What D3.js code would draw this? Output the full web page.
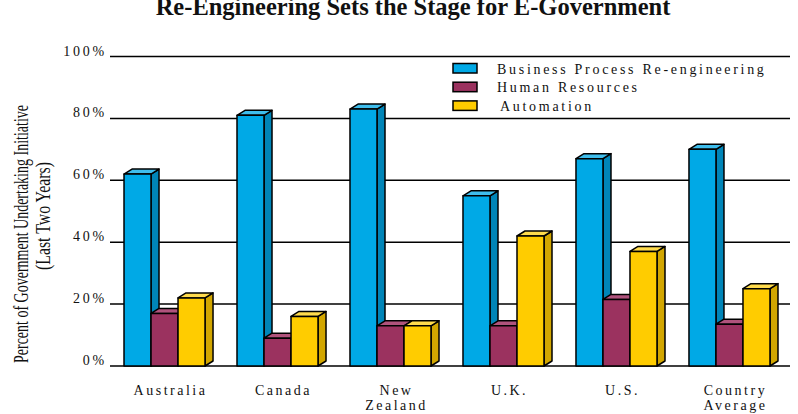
<!DOCTYPE html>
<html>
<head>
<meta charset="utf-8">
<script src="https://cdn.jsdelivr.net/npm/d3@7"></script>
<style>
  body { margin: 0; background: #fff; }
  svg { display: block; }
  text { font-family: "Liberation Serif", "Times New Roman", serif; fill: #111; }
</style>
</head>
<body>
<div id="chart"></div>
<script>
// chart values
const countries = ["Australia", "Canada", "New Zealand", "U.K.", "U.S.", "Country Average"];
const seriesNames = ["Business Process Re-engineering", "Human Resources", "Automation"];
const bprValues = [62, 81, 83, 55, 67, 70];
const hrValues = [17, 9, 13, 13, 21.5, 13.5];
const autoValues = [22, 16, 13, 42, 37, 25];
const yTicks = [0, 20, 40, 60, 80, 100];

const colors = {
  "Business Process Re-engineering": { front: "#00a9e6", side: "#0085b8", top: "#3fbdec" },
  "Human Resources": { front: "#9b325f", side: "#7a2349", top: "#b0537c" },
  "Automation": { front: "#ffcc00", side: "#d2a600", top: "#ffdb4d" }
};

const width = 798, height = 414;
const depthX = 8, depthY = -5;

const svg = d3.select("#chart")
  .append("svg")
    .attr("width", width)
    .attr("height", height);

const yScale = d3.scaleLinear()
  .domain([0, 100])
  .range([366, 56.5]);

const xScale = d3.scaleBand()
  .domain(countries)
  .range([110, 784])
  .paddingInner(0.283)
  .paddingOuter(0.124);

const xInner = d3.scaleBand()
  .domain(seriesNames)
  .range([0, xScale.bandwidth()]);

// title
svg.append("text")
  .attr("x", 413)
  .attr("y", 15)
  .attr("text-anchor", "middle")
  .style("font-size", "24.5px")
  .style("font-weight", "bold")
  .text("Re-Engineering Sets the Stage for E-Government");

// gridlines
svg.append("g")
  .selectAll("line")
  .data(yTicks)
  .join("line")
    .attr("x1", 110)
    .attr("x2", 790)
    .attr("y1", d => yScale(d))
    .attr("y2", d => yScale(d))
    .attr("stroke", "#000")
    .attr("stroke-width", 1.5);

// y tick labels
svg.append("g")
  .selectAll("text")
  .data(yTicks)
  .join("text")
    .attr("x", 107)
    .attr("y", d => yScale(d) - 1)
    .attr("text-anchor", "end")
    .style("font-size", "14px")
    .style("letter-spacing", "2.8px")
    .text(d => d + "%");

// y axis title
svg.append("text")
  .attr("transform", "translate(28,234) rotate(-90)")
  .attr("text-anchor", "middle")
  .attr("textLength", 258)
  .attr("lengthAdjust", "spacingAndGlyphs")
  .style("font-size", "22px")
  .text("Percent of Government Undertaking Initiative");

svg.append("text")
  .attr("transform", "translate(50,216) rotate(-90)")
  .attr("text-anchor", "middle")
  .attr("textLength", 108)
  .attr("lengthAdjust", "spacingAndGlyphs")
  .style("font-size", "22px")
  .text("(Last Two Years)");

// bars
const series = [bprValues, hrValues, autoValues];
const bars = [];
countries.forEach((c, i) => {
  seriesNames.forEach((s, j) => {
    bars.push({ country: c, series: s, value: series[j][i] });
  });
});

const base = yScale(0);
const bw = xInner.bandwidth();

const barG = svg.append("g")
  .attr("stroke", "#000")
  .attr("stroke-width", 1.5)
  .attr("stroke-linejoin", "round");

const bar = barG.selectAll("g")
  .data(bars)
  .join("g");

bar.append("path")
  .attr("fill", d => colors[d.series].side)
  .attr("d", d => {
    const x0 = xScale(d.country) + xInner(d.series), y0 = yScale(d.value);
    return `M${x0 + bw},${y0}L${x0 + bw + depthX},${y0 + depthY}L${x0 + bw + depthX},${base + depthY}L${x0 + bw},${base}Z`;
  });

bar.append("path")
  .attr("fill", d => colors[d.series].top)
  .attr("d", d => {
    const x0 = xScale(d.country) + xInner(d.series), y0 = yScale(d.value);
    return `M${x0},${y0}L${x0 + depthX},${y0 + depthY}L${x0 + bw + depthX},${y0 + depthY}L${x0 + bw},${y0}Z`;
  });

bar.append("rect")
  .attr("fill", d => colors[d.series].front)
  .attr("x", d => xScale(d.country) + xInner(d.series))
  .attr("y", d => yScale(d.value))
  .attr("width", bw)
  .attr("height", d => base - yScale(d.value));

// x labels
const xLab = svg.append("g")
  .selectAll("text")
  .data(countries)
  .join("text")
    .attr("x", d => xScale(d) + xScale.bandwidth() / 2 + 6)
    .attr("y", 395)
    .attr("text-anchor", "middle")
    .style("font-size", "14px")
    .style("letter-spacing", "2.5px");

xLab.selectAll("tspan")
  .data(d => d.split(" "))
  .join("tspan")
    .attr("x", function() { return d3.select(this.parentNode).attr("x"); })
    .attr("dy", (d, i) => i === 0 ? 0 : 15)
    .text(d => d);

// legend
const legend = svg.append("g")
  .selectAll("g")
  .data(seriesNames)
  .join("g")
    .attr("transform", (d, i) => `translate(453,${63.5 + i * 18.7})`);

legend.append("rect")
  .attr("width", 24)
  .attr("height", 9.5)
  .attr("fill", d => colors[d].front)
  .attr("stroke", "#000")
  .attr("stroke-width", 1.5);

legend.append("text")
  .attr("x", (d, i) => i === 2 ? 47 : 44)
  .attr("y", 10)
  .style("font-size", "14px")
  .style("letter-spacing", "2.7px")
  .text(d => d);
</script>
</body>
</html>
